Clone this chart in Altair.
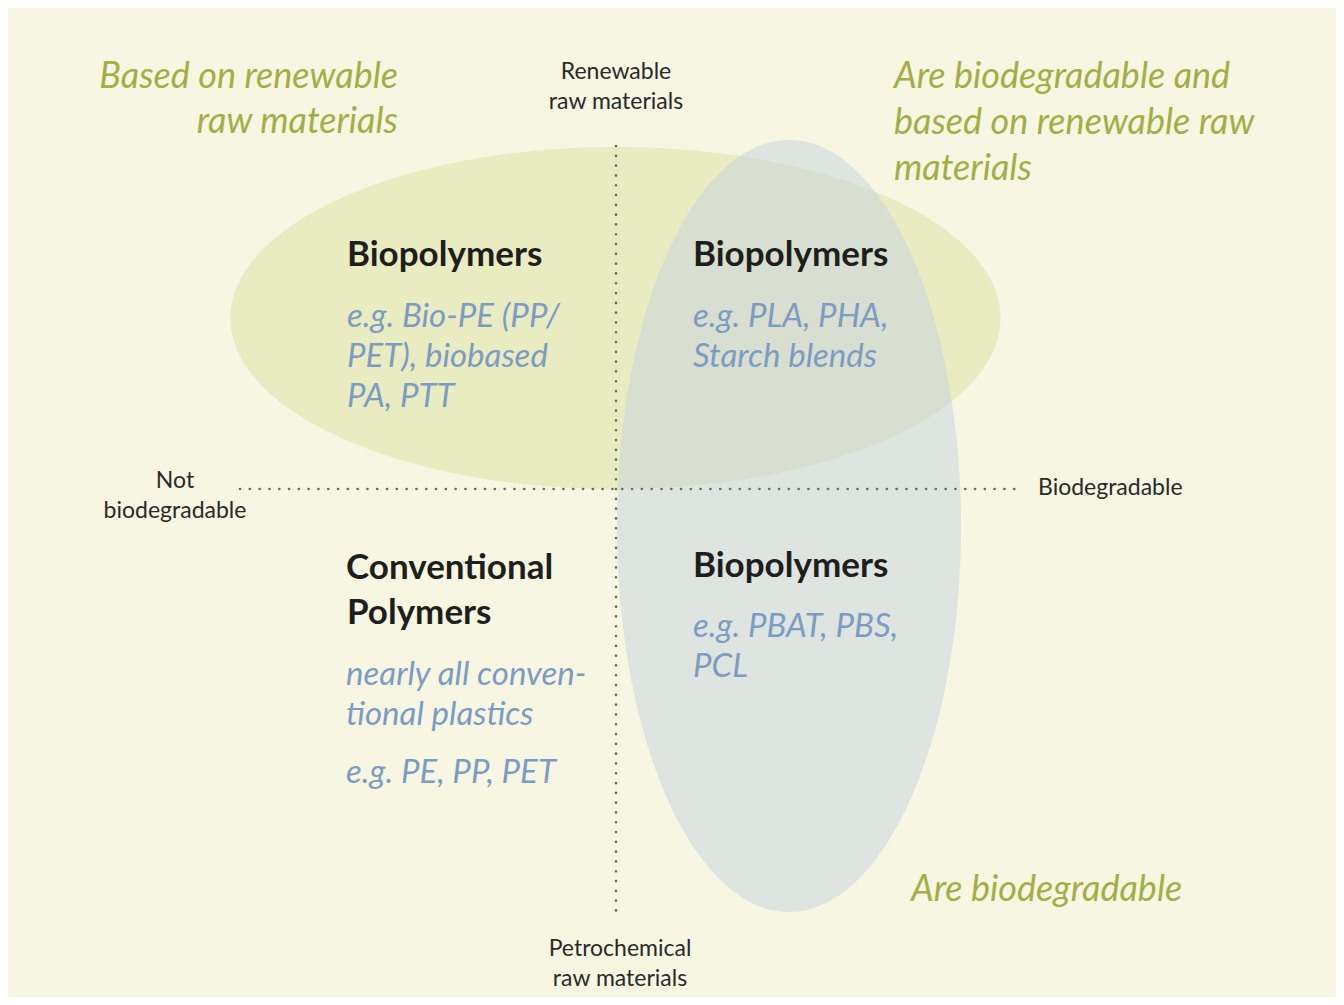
import numpy as np
import pandas as pd
import altair as alt

# ---- canvas (reference pixel coordinates) ----
X0, Y0 = 8, 8
W, H = 1328, 989

# ---- ellipses: center x, center y, radius x, radius y ----
ell_names = ["renewable", "biodegradable"]
ell_cx = [615.5, 789.0]
ell_cy = [318.0, 526.0]
ell_rx = [385.0, 172.0]
ell_ry = [171.0, 386.0]
ell_colors = ["#dfe1a6", "#cad6dc"]

# ---- dotted axes ----
vline_x = [616]
vline_y = [146]
vline_y2 = [913]
hline_y = [489]
hline_x = [240]
hline_x2 = [1022]

# ---- green corner captions ----
green_r_text = ["Based on renewable", "raw materials"]
green_r_x = [398, 398]
green_r_y = [88, 133]
green_l_text = ["Are biodegradable and", "based on renewable raw", "materials", "Are biodegradable"]
green_l_x = [894, 894, 894, 911]
green_l_y = [88, 134, 180, 901]

# ---- axis end labels ----
axc_text = ["Renewable", "raw materials", "Not", "biodegradable", "Petrochemical", "raw materials"]
axc_x = [616, 616, 175, 175, 620, 620]
axc_y = [79, 109, 488, 518, 956, 986]
axl_text = ["Biodegradable"]
axl_x = [1038]
axl_y = [495]

# ---- quadrant headings ----
head_text = ["Biopolymers", "Biopolymers", "Conventional", "Polymers", "Biopolymers"]
head_x = [347, 693, 346, 347, 693]
head_y = [266, 266, 579, 624, 577]

# ---- quadrant examples ----
ex_text = ["e.g. Bio-PE (PP/", "PET), biobased", "PA, PTT",
           "e.g. PLA, PHA,", "Starch blends",
           "nearly all conven-", "tional plastics", "e.g. PE, PP, PET",
           "e.g. PBAT, PBS,", "PCL"]
ex_x = [347, 347, 347, 693, 693, 346, 346, 346, 693, 693]
ex_y = [327, 367, 407, 327, 367, 685, 725, 783, 637, 677]

FONT = "Lato"

xs = alt.Scale(domain=[X0, X0 + W], range=[0, W], nice=False, zero=False)
ys = alt.Scale(domain=[Y0, Y0 + H], range=[0, H], nice=False, zero=False)

# ellipse outlines built from the parameters above
t = np.linspace(0, np.pi, 361)
layers = []
for n, cx, cy, rx, ry, c in zip(ell_names, ell_cx, ell_cy, ell_rx, ell_ry, ell_colors):
    df = pd.DataFrame({
        "x": cx + rx * np.cos(t),
        "y": cy - ry * np.sin(t),
        "y2": cy + ry * np.sin(t),
    }).sort_values("x").reset_index(drop=True)
    layers.append(
        alt.Chart(df).mark_area(color=c, opacity=0.55).encode(
            x=alt.X("x:Q", scale=xs, axis=None),
            y=alt.Y("y:Q", scale=ys, axis=None, stack=None),
            y2="y2:Q",
        )
    )

dot_style = dict(color="#6b6b66", strokeWidth=2.6, strokeDash=[0.1, 9.7], strokeCap="round")
vdf = pd.DataFrame({"x": vline_x, "y": vline_y, "y2": vline_y2})
hdf = pd.DataFrame({"y": hline_y, "x": hline_x, "x2": hline_x2})
layers.append(alt.Chart(vdf).mark_rule(**dot_style).encode(
    x=alt.X("x:Q", scale=xs), y=alt.Y("y:Q", scale=ys), y2="y2:Q"))
layers.append(alt.Chart(hdf).mark_rule(**dot_style).encode(
    y=alt.Y("y:Q", scale=ys), x=alt.X("x:Q", scale=xs), x2="x2:Q"))


def text_layer(texts, xv, yv, align, **style):
    df = pd.DataFrame({"t": texts, "x": xv, "y": yv})
    return alt.Chart(df).mark_text(align=align, baseline="alphabetic", font=FONT, **style).encode(
        x=alt.X("x:Q", scale=xs), y=alt.Y("y:Q", scale=ys), text="t:N")


green = "#a2af45"
blue = "#7d9cc4"
dark = "#2a2a28"
layers.append(text_layer(green_r_text, green_r_x, green_r_y, "right",
                         fontSize=36, fontStyle="italic", color=green))
layers.append(text_layer(green_l_text, green_l_x, green_l_y, "left",
                         fontSize=36, fontStyle="italic", color=green))
layers.append(text_layer(axc_text, axc_x, axc_y, "center", fontSize=23, color=dark))
layers.append(text_layer(axl_text, axl_x, axl_y, "left", fontSize=23, color=dark))
layers.append(text_layer(head_text, head_x, head_y, "left",
                         fontSize=35, fontWeight="bold", color="#1e1e1c"))
layers.append(text_layer(ex_text, ex_x, ex_y, "left",
                         fontSize=33, fontStyle="italic", color=blue))

chart = alt.layer(*layers).properties(
    width=W, height=H, background="#f6f6e3", padding=0,
    autosize=alt.AutoSizeParams(type="none"),
).configure_view(stroke=None)

chart.save("out.html", embed_options={"renderer": "svg", "actions": False})
